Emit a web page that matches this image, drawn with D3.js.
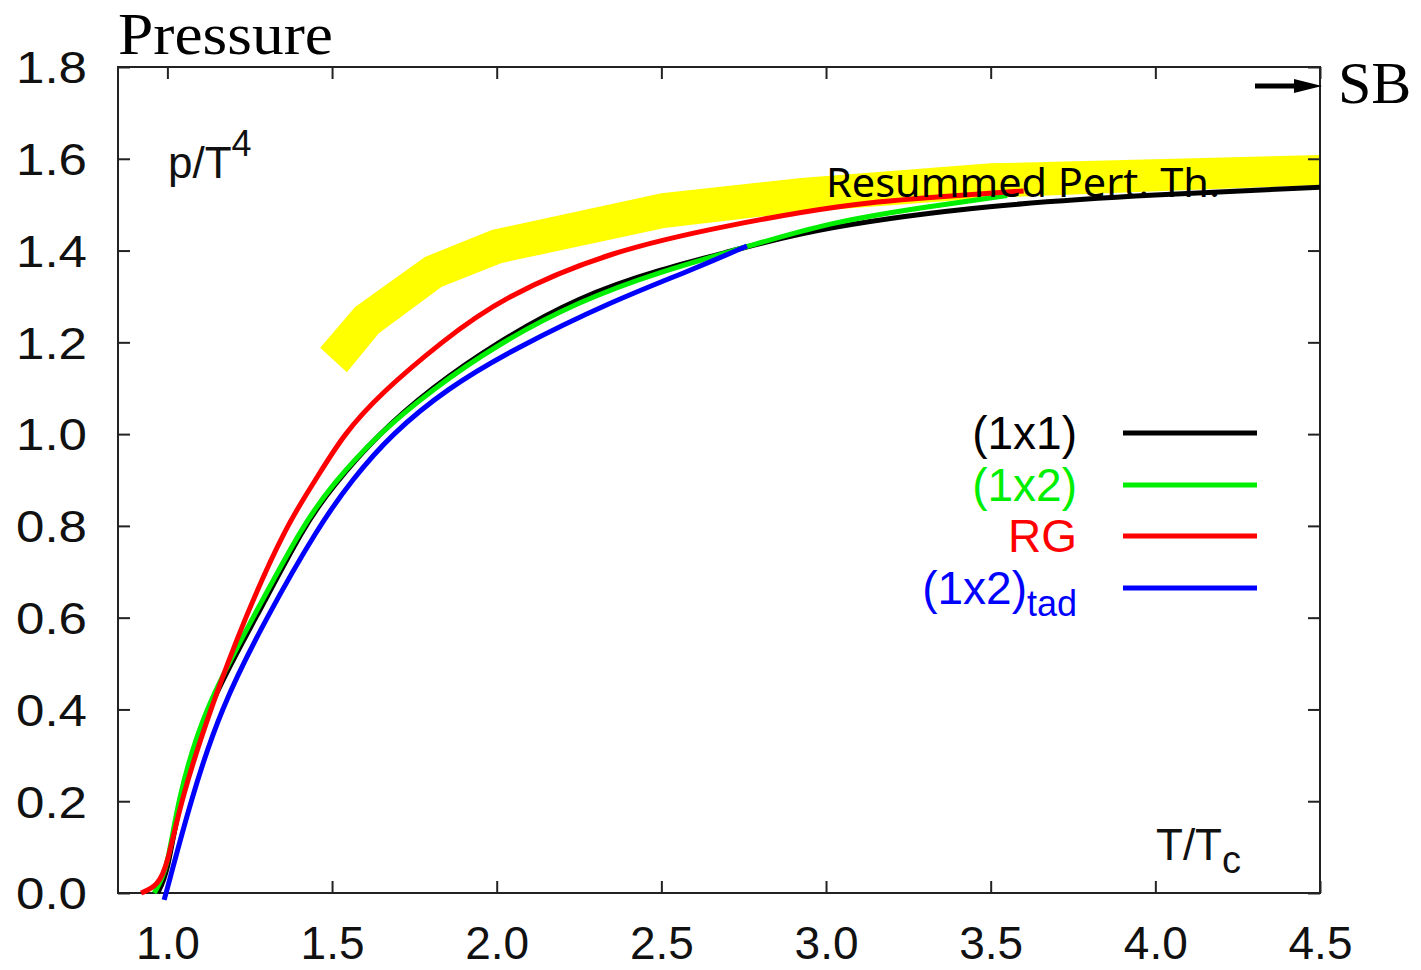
<!DOCTYPE html>
<html><head><meta charset="utf-8">
<script src="https://cdn.jsdelivr.net/npm/d3@7"></script>
<style>html,body{margin:0;padding:0;background:#fff;}</style>
</head><body>
<svg id="chart" width="1421" height="970"></svg>
<script>
// ---- data ----
const xTicks = [1.0, 1.5, 2.0, 2.5, 3.0, 3.5, 4.0, 4.5];
const yTicks = [0.0, 0.2, 0.4, 0.6, 0.8, 1.0, 1.2, 1.4, 1.6, 1.8];

const T_1x1 = [0.97, 1.0, 1.035, 1.115, 1.27, 1.415, 1.5, 1.64, 1.8, 2.0, 2.25, 2.5, 2.72, 2.98, 3.5, 4.0, 4.5];
const P_1x1 = [0.0, 0.04, 0.2, 0.4, 0.6, 0.8, 0.885, 1.0, 1.1, 1.2, 1.3, 1.36, 1.4, 1.45, 1.5, 1.522, 1.538];

const T_1x2 = [0.96, 1.0, 1.03, 1.11, 1.26, 1.41, 1.5, 1.64, 1.8, 2.0, 2.25, 2.5, 2.76, 3.0, 3.3, 3.55];
const P_1x2 = [0.0, 0.05, 0.2, 0.4, 0.6, 0.8, 0.89, 1.0, 1.095, 1.195, 1.29, 1.355, 1.408, 1.46, 1.495, 1.52];

const T_RG = [0.92, 0.97, 1.0, 1.04, 1.13, 1.235, 1.36, 1.45, 1.535, 1.65, 1.83, 2.02, 2.35, 2.7, 3.05, 3.3, 3.6];
const P_RG = [0.0, 0.015, 0.06, 0.2, 0.4, 0.6, 0.8, 0.9, 1.0, 1.09, 1.2, 1.3, 1.4, 1.455, 1.5, 1.515, 1.53];

const T_tad = [0.99, 1.0, 1.07, 1.16, 1.30, 1.46, 1.56, 1.68, 1.85, 2.05, 2.35, 2.6, 2.76];
const P_tad = [-0.015, 0.01, 0.2, 0.4, 0.6, 0.8, 0.9, 1.0, 1.1, 1.185, 1.29, 1.36, 1.41];

const bandUpperT = [1.464, 1.570, 1.782, 1.985, 2.5, 2.924, 3.5, 4.5];
const bandUpperP = [1.188, 1.277, 1.386, 1.445, 1.525, 1.558, 1.59, 1.608];
const bandLowerT = [1.545, 1.642, 1.833, 2.015, 2.509, 2.924, 3.5, 4.5];
const bandLowerP = [1.135, 1.220, 1.321, 1.373, 1.449, 1.484, 1.515, 1.543];

const seriesNames = ["(1x1)", "(1x2)", "RG", "(1x2)"];
const seriesColors = ["#000000", "#00ee00", "#ff0000", "#0000ff"];

// ---- chart ----
const svg = d3.select("#chart");
const L = 118, R = 1320, TOP = 67, B = 893;
const x = d3.scaleLinear().domain([0.85, 4.5]).range([L, R]);
const y = d3.scaleLinear().domain([0, 1.8]).range([B, TOP]);

const line = d3.line().x(d => x(d[0])).y(d => y(d[1])).curve(d3.curveBasis);
const zip = (a, b) => a.map((v, i) => [v, b[i]]);

// band
const bandPts = zip(bandUpperT, bandUpperP).concat(zip(bandLowerT, bandLowerP).reverse());
svg.append("path")
  .attr("d", d3.line().x(d => x(d[0])).y(d => y(d[1]))(bandPts) + "Z")
  .attr("fill", "#ffff00");

// axes
const sans = "'Liberation Sans', Arial, sans-serif";
const xAxisB = d3.axisBottom(x).tickValues(xTicks).tickSize(-12).tickFormat(d3.format(".1f")).tickPadding(33);
const xAxisT = d3.axisTop(x).tickValues(xTicks).tickSize(-12).tickFormat("");
const yAxisL = d3.axisLeft(y).tickValues(yTicks).tickSize(-12).tickFormat(d3.format(".1f")).tickPadding(31);
const yAxisR = d3.axisRight(y).tickValues(yTicks).tickSize(-12).tickFormat("");

function styleAxis(g){
  g.select(".domain").remove();
  g.selectAll(".tick line").attr("stroke", "#222").attr("stroke-width", 2);
}
svg.append("g").attr("transform", `translate(0,${B})`).call(xAxisB).call(styleAxis)
  .selectAll("text").attr("font-family", sans).attr("font-size", 46).attr("fill", "#111");
svg.append("g").attr("transform", `translate(0,${TOP})`).call(xAxisT).call(styleAxis);
svg.append("g").attr("transform", `translate(${L},0)`).call(yAxisL).call(styleAxis)
  .selectAll("text").attr("font-family", sans).attr("font-size", 44).attr("fill", "#111")
  .attr("dy", "0.36em").attr("textLength", 71).attr("lengthAdjust", "spacingAndGlyphs");
svg.append("g").attr("transform", `translate(${R},0)`).call(yAxisR).call(styleAxis);

// frame
svg.append("rect").attr("x", L).attr("y", TOP).attr("width", R - L).attr("height", B - TOP)
  .attr("fill", "none").attr("stroke", "#222").attr("stroke-width", 2);

// curves (drawing order black, green, blue, red)
const curves = [
  {t: T_1x1, p: P_1x1, c: seriesColors[0]},
  {t: T_1x2, p: P_1x2, c: seriesColors[1]},
  {t: T_tad, p: P_tad, c: seriesColors[3]},
  {t: T_RG, p: P_RG, c: seriesColors[2]}
];
curves.forEach(s => {
  svg.append("path").attr("d", line(zip(s.t, s.p)))
    .attr("fill", "none").attr("stroke", s.c).attr("stroke-width", 5)
    .attr("stroke-linecap", "butt").attr("stroke-linejoin", "round");
});

// legend
const legY = [433, 485, 536, 588];
seriesNames.forEach((n, i) => {
  const t = svg.append("text").attr("x", 1077).attr("y", legY[i] + 16)
    .attr("text-anchor", "end").attr("font-family", sans).attr("font-size", 46)
    .attr("fill", seriesColors[i]);
  t.append("tspan").text(n);
  if (i === 3) t.append("tspan").attr("font-size", 36).attr("dy", 12).text("tad");
  svg.append("line").attr("x1", 1123).attr("x2", 1257).attr("y1", legY[i]).attr("y2", legY[i])
    .attr("stroke", seriesColors[i]).attr("stroke-width", 5);
});

// axis titles
const pt = svg.append("text").attr("x", 168).attr("y", 178).attr("font-family", sans)
  .attr("font-size", 44).attr("fill", "#111");
pt.append("tspan").text("p/T");
pt.append("tspan").attr("font-size", 36).attr("dy", -22).text("4");

const tt = svg.append("text").attr("x", 1156).attr("y", 860).attr("font-family", sans)
  .attr("font-size", 44).attr("fill", "#111");
tt.append("tspan").text("T/T");
tt.append("tspan").attr("font-size", 38).attr("dy", 13).text("c");

// title
svg.append("text").attr("x", 118).attr("y", 54).attr("font-family", "'Liberation Serif', 'Times New Roman', serif")
  .attr("font-size", 59).attr("fill", "#000")
  .attr("textLength", 215).attr("lengthAdjust", "spacingAndGlyphs").text("Pressure");

// SB arrow
svg.append("line").attr("x1", 1255).attr("x2", 1300).attr("y1", 86).attr("y2", 86)
  .attr("stroke", "#000").attr("stroke-width", 5);
svg.append("path").attr("d", "M1322,86 L1294,79 L1294,93 Z").attr("fill", "#000");
svg.append("text").attr("x", 1338).attr("y", 103).attr("font-family", "'Liberation Serif', 'Times New Roman', serif")
  .attr("font-size", 60).attr("fill", "#000").text("SB");

// band label
svg.append("text").attr("x", 826).attr("y", 197).attr("font-family", "'Noto Sans', 'Open Sans', sans-serif")
  .attr("font-size", 40).attr("fill", "#000")
  .attr("textLength", 394).attr("lengthAdjust", "spacingAndGlyphs").text("Resummed Pert. Th.");
</script>
</body></html>
